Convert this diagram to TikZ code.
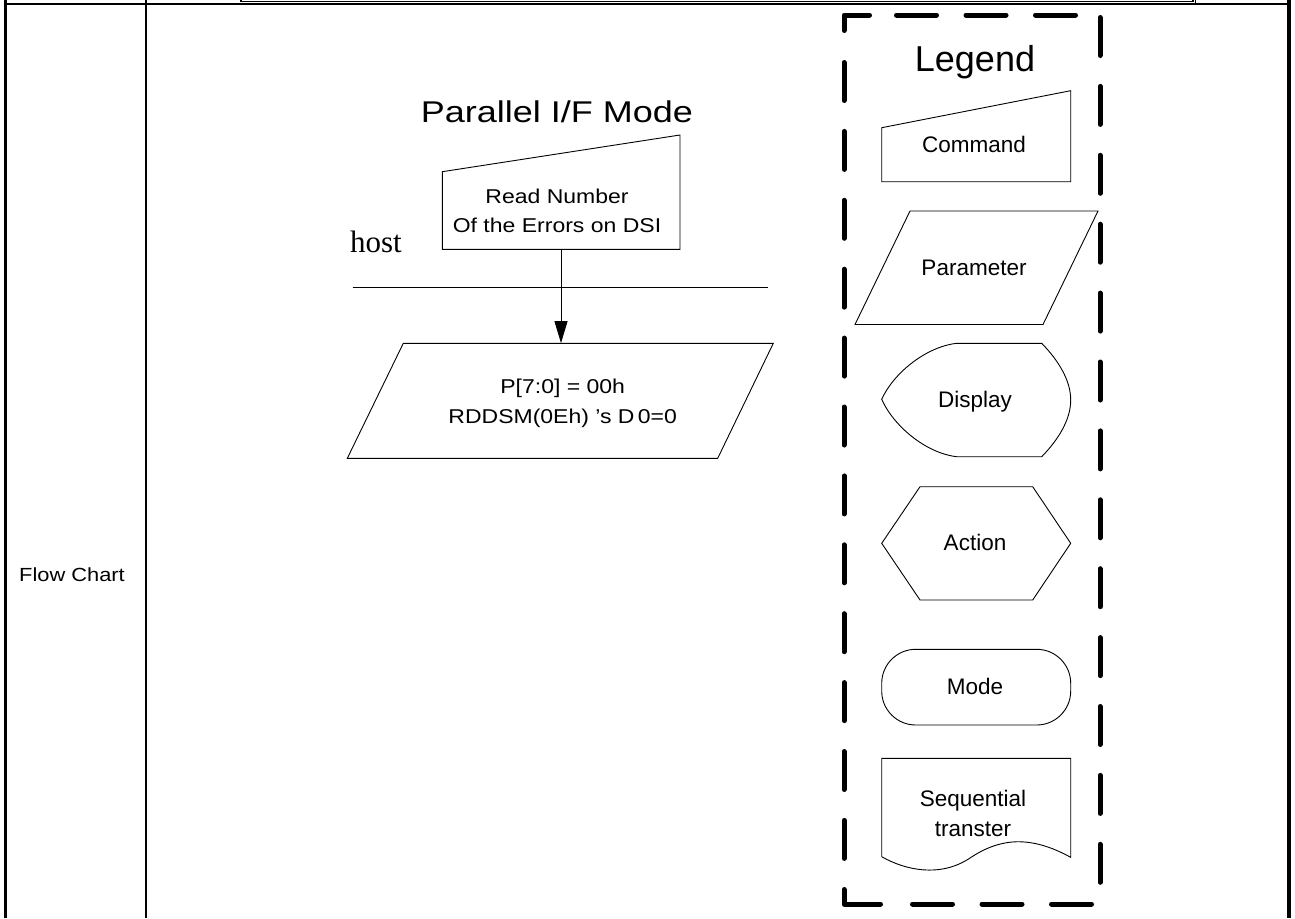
\documentclass[tikz,border=0pt]{standalone}
\usepackage{fontspec}
\setmainfont{Liberation Sans}
\newfontfamily\stretchsans[FakeStretch=1.15]{Liberation Sans}
\newfontfamily\titlesans[FakeStretch=1.2]{Liberation Sans}
\newfontfamily\hostserif{Liberation Serif}
\usetikzlibrary{arrows.meta}
\begin{document}
\begin{tikzpicture}[x=1pt,y=-1pt,
  shapeline/.style={draw=black,line width=0.9pt},
  tableline/.style={draw=black,line width=#1},
  legendtext/.style={font=\fontsize{22.5}{30}\selectfont,inner sep=0pt},
  flowtext/.style={font=\stretchsans\fontsize{20}{29.4}\selectfont,inner sep=0pt,align=center},
  hidden/.style={draw=none,inner sep=0pt},
  framesolid/.style={draw=black,line width=5pt,line cap=round,line join=round},
  framevert/.style={framesolid,dash pattern=on 38pt off 30.9pt},
  framehoriz/.style={framesolid,dash pattern=on 40pt off 29.5pt},
  flowarrow/.style={draw=black,line width=0.9pt,-{Triangle[width=13pt,length=22pt]}}
]
\useasboundingbox (0,0) rectangle (1295,918);
\fill[white] (0,0) rectangle (1295,918);

% table lines
\draw[tableline=2pt] (4,4.2) -- (1291,4.2);
\draw[tableline=3.3pt] (5.7,0) -- (5.7,918);
\draw[tableline=2pt] (146,0) -- (146,918);
\draw[tableline=4pt] (1288.5,0) -- (1288.5,918);
\draw[tableline=1.2pt] (241,0) -- (241,1.3) -- (1193,1.3) -- (1193,0);
\draw[tableline=1.2pt] (1195.3,0) -- (1195.3,4);

\node[font=\stretchsans\fontsize{19}{22}\selectfont,inner sep=0pt,anchor=base] (rowlabel) at (72,581) {Flow Chart};

% main flow
\node[font=\titlesans\fontsize{30}{36}\selectfont,inner sep=0pt,anchor=base] (title) at (557,122.3) {Parallel I/F Mode};
\node[font=\hostserif\fontsize{31}{36}\selectfont,inner sep=0pt,anchor=base] (host) at (376,252.7) {host};

\draw[shapeline] (442.3,171.7) -- (680,135) -- (680,249.3) -- (442.3,249.3) -- cycle;
\node[hidden,minimum width=237.7pt,minimum height=114.3pt] (cmdbox) at (561,192.15) {};
\node[flowtext] (cmdtext) at (557,210.7) {Read Number\\Of the Errors on DSI};

\draw[black,line width=0.9pt] (352.7,287.3) -- (768.3,287.3);

\draw[shapeline] (403.3,343.3) -- (773.3,343.3) -- (717.7,458.3) -- (347.3,458.3) -- cycle;
\node[hidden,minimum width=426pt,minimum height=115pt] (parbox) at (560.3,400.8) {};
\node[flowtext] (partext) at (562.7,403.5) {P[7:0] = 00h\\RDDSM(0Eh) ’s D\,0=0};

\draw[flowarrow] (cmdbox.south) -- (cmdbox.south |- parbox.north);

% legend frame (dashed)
\draw[framesolid] (844,30.5) -- (844,15) -- (869.5,15);
\draw[framesolid] (844,889.5) -- (844,904) -- (880.5,904);
\draw[framehoriz] (896.5,15) -- (1080,15);
\draw[framehoriz] (912.5,904) -- (1095,904);
\draw[framevert] (844,62.5) -- (844,860);
\draw[framevert] (1100,17.5) -- (1100,885);

\node[font=\fontsize{36}{40}\selectfont,inner sep=0pt,anchor=base] (legendtitle) at (975,71.7) {Legend};

\draw[shapeline] (881.7,127.7) -- (1070.7,90.7) -- (1070.7,181.7) -- (881.7,181.7) -- cycle;
\node[legendtext,anchor=base] (lgcommand) at (974,152.7) {Command};

\draw[shapeline] (910,211) -- (1098,211) -- (1043,324.5) -- (855,324.5) -- cycle;
\node[legendtext,anchor=base] (lgparameter) at (974,275) {Parameter};

\draw[shapeline] (956.7,343.3) -- (1041.7,343.3)
  .. controls (1058,360) and (1070.7,380) .. (1070.7,400)
  .. controls (1070.7,420) and (1058,440) .. (1041.7,456.7)
  -- (956.7,456.7)
  .. controls (925,453) and (893,425) .. (881.7,399.3)
  .. controls (893,374) and (925,347) .. (956.7,343.3) -- cycle;
\node[legendtext,anchor=base] (lgdisplay) at (975,407.3) {Display};

\draw[shapeline] (920,486.7) -- (1032.7,486.7) -- (1070.7,543.3) -- (1032.7,600) -- (920,600) -- (881.7,543.3) -- cycle;
\node[legendtext,anchor=base] (lgaction) at (975,550.7) {Action};

\draw[shapeline,rounded corners=34pt] (881.7,649.3) rectangle (1070.7,725);
\node[legendtext,anchor=base] (lgmode) at (975,694) {Mode};

\draw[shapeline] (881.7,856.7) -- (881.7,758.3) -- (1070.7,758.3) -- (1070.7,857.3)
  .. controls (1030,835) and (1000,838) .. (970,858)
  .. controls (940,878) and (905,870) .. (881.7,856.7);
\node[legendtext,align=center] (lgseq) at (973,813.5) {Sequential\\transter};

\end{tikzpicture}
\end{document}
